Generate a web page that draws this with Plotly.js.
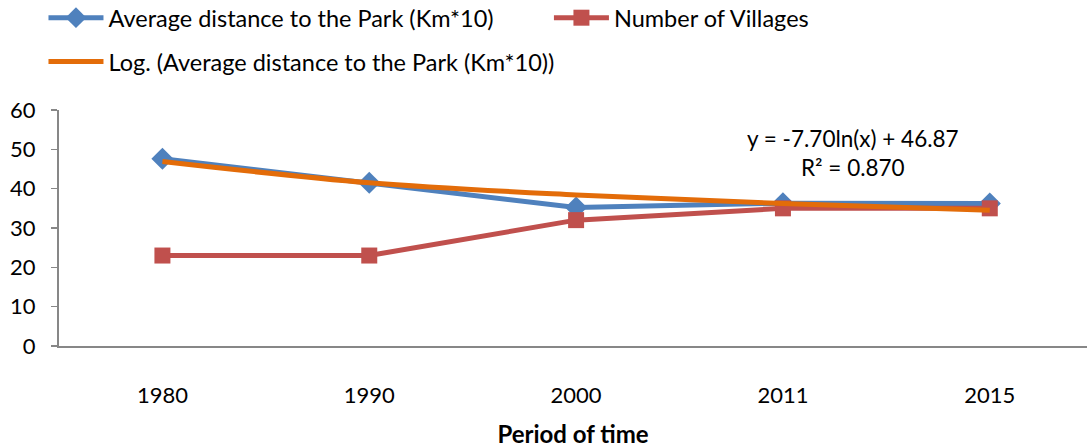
<!DOCTYPE html>
<html><head><meta charset="utf-8">
<script src="https://cdn.plot.ly/plotly-3.0.1.min.js"></script>
<style>html,body{margin:0;padding:0;background:#fff;}#chart{width:1087px;height:448px;}</style>
</head><body><div id="chart"></div>
<script>
const categories = ["1980", "1990", "2000", "2011", "2015"];
const avgDistance = [47.6, 41.5, 35.2, 36.3, 36.2];
const numVillages = [23, 23, 32, 35, 35];
const logTrend = [46.9, 41.5, 38.4, 36.2, 34.5];
const yTicks = [0, 10, 20, 30, 40, 50, 60];

const FONT = "Lato, sans-serif";

const traces = [
  {x: categories, y: avgDistance, name: "Average distance to the Park (Km*10)", type: "scatter", mode: "lines+markers",
   line: {color: "#4F81BD", width: 5}, marker: {symbol: "diamond", size: 17, color: "#4F81BD"}, legend: "legend"},
  {x: categories, y: numVillages, name: "Number of Villages", type: "scatter", mode: "lines+markers",
   line: {color: "#C0504D", width: 5}, marker: {symbol: "square", size: 16, color: "#C0504D"}, legend: "legend2"},
  {x: categories, y: logTrend, name: "Log. (Average distance to the Park (Km*10))", type: "scatter", mode: "lines",
   line: {color: "#E36C09", width: 5, shape: "spline"}, legend: "legend3"}
];

function leg(x, y) {
  return {orientation: "h", xref: "container", yref: "container", x: x, y: y, xanchor: "left", yanchor: "middle",
          font: {size: 23.5, family: FONT}, bgcolor: "rgba(0,0,0,0)", itemwidth: 55, visible: true};
}

const layout = {
  width: 1087, height: 448,
  margin: {l: 59, r: 0, t: 110, b: 102},
  paper_bgcolor: "#fff", plot_bgcolor: "#fff",
  font: {family: FONT, size: 22, color: "#000"},
  showlegend: true,
  xaxis: {type: "category", range: [-0.5, 4.47], showgrid: false, zeroline: false,
          showline: true, linecolor: "#878787", linewidth: 2, ticks: "",
          ticklabelstandoff: 29, tickfont: {size: 22},
          title: {text: "<b>Period of time</b>", font: {size: 24}, standoff: 20}},
  yaxis: {range: [0, 60], tickvals: yTicks, showgrid: false, zeroline: false,
          showline: true, linecolor: "#878787", linewidth: 2, ticks: "outside", ticklen: 6,
          tickcolor: "#878787", tickwidth: 1.5, tickfont: {size: 22}, ticklabelstandoff: 11},
  legend: leg(0.040, 0.96),
  legend2: leg(0.505, 0.96),
  legend3: leg(0.040, 0.862),
  annotations: [
    {xref: "paper", yref: "paper", x: 0.772, y: 0.818, text: "y = -7.70ln(x) + 46.87<br>R² = 0.870",
     showarrow: false, font: {size: 22.5}, align: "center", xanchor: "center", yanchor: "middle"}
  ]
};

Plotly.newPlot("chart", traces, layout, {displayModeBar: false, staticPlot: true});
</script></body></html>
